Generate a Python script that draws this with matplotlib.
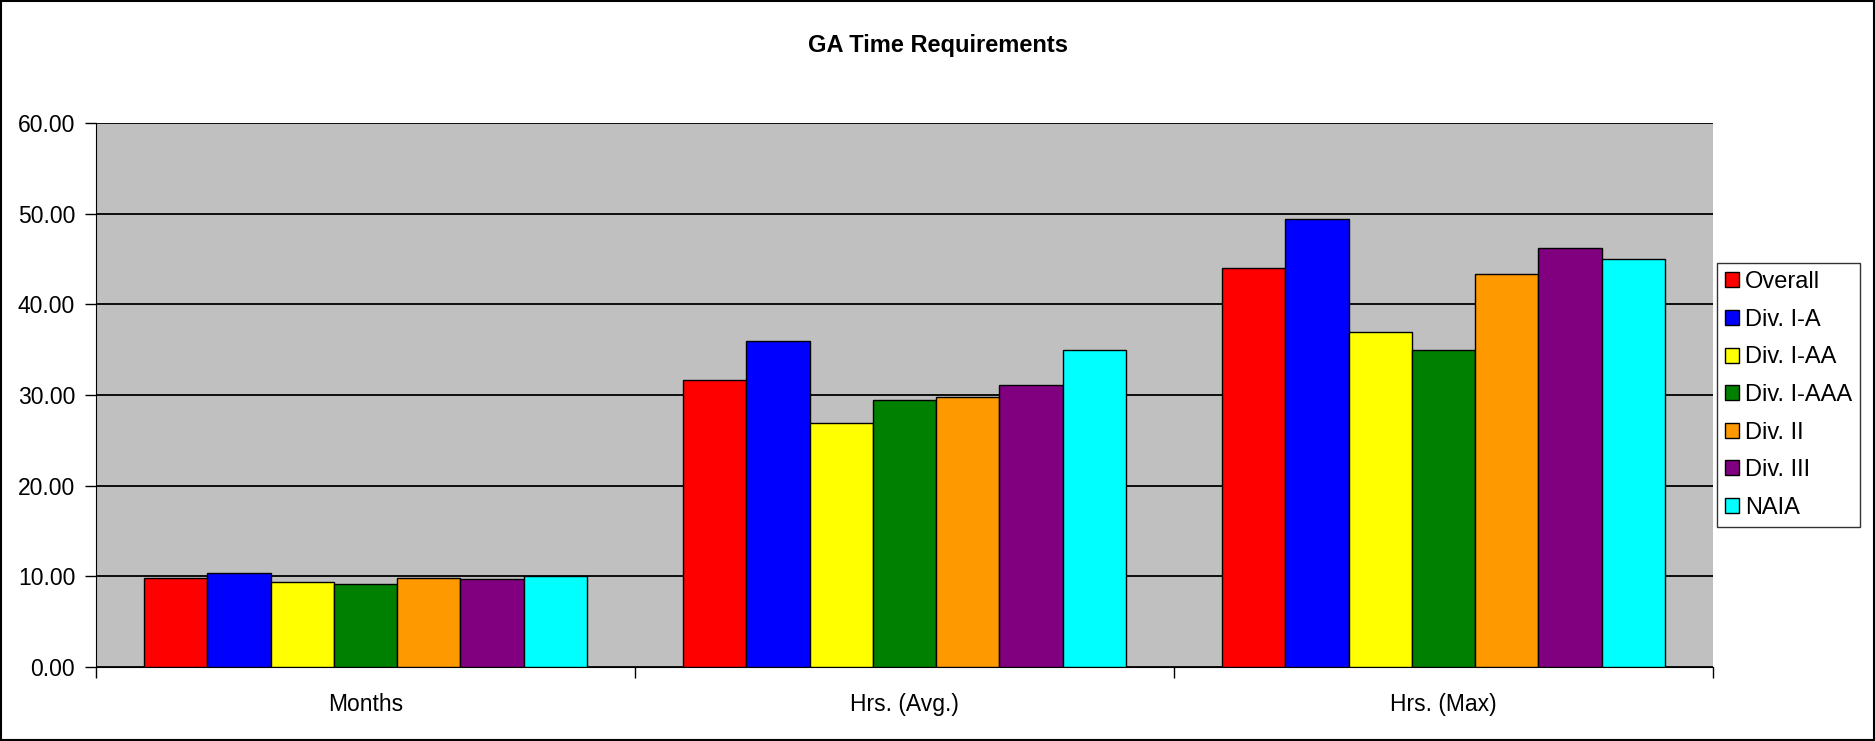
import numpy as np
import matplotlib.pyplot as plt
from matplotlib.patches import Rectangle

plt.rcParams['font.family'] = ['Liberation Sans', 'DejaVu Sans']

categories = ["Months", "Hrs. (Avg.)", "Hrs. (Max)"]
series = ["Overall", "Div. I-A", "Div. I-AA", "Div. I-AAA", "Div. II", "Div. III", "NAIA"]
overall = [9.8, 31.6, 44.0]
div_1a = [10.4, 36.0, 49.4]
div_1aa = [9.4, 26.9, 37.0]
div_1aaa = [9.2, 29.5, 35.0]
div_2 = [9.8, 29.8, 43.4]
div_3 = [9.7, 31.1, 46.2]
naia = [10.0, 35.0, 45.0]
colors = ["#FF0000", "#0000FF", "#FFFF00", "#008000", "#FF9900", "#800080", "#00FFFF"]

values = [overall, div_1a, div_1aa, div_1aaa, div_2, div_3, naia]

fig = plt.figure(figsize=(18.75, 7.41), dpi=100)
ax = fig.add_axes([0.0512, 0.0999, 0.8624, 0.7341])
ax.set_facecolor("#C0C0C0")

n = len(series)
gap = 1.52
w = 1.0 / (n + gap)
x = np.arange(len(categories))
for i, (name, vals) in enumerate(zip(series, values)):
    offs = (i - (n - 1) / 2) * w
    ax.bar(x + offs, vals, width=w, color=colors[i], edgecolor="black",
           linewidth=1.0, label=name, zorder=3)

ax.set_xlim(-0.5, len(categories) - 0.5)
ax.set_ylim(0, 60)
ax.set_yticks(np.arange(0, 61, 10))
ax.set_yticklabels([f"{v:.2f}" for v in np.arange(0, 61, 10)])
ax.yaxis.grid(True, color="black", linewidth=1.3, zorder=1)
ax.set_axisbelow(True)

ax.set_xticks(x)
ax.set_xticklabels(categories)
ax.set_xticks(np.arange(-0.5, len(categories)), minor=True)
ax.tick_params(axis="x", which="major", length=0, pad=19, labelsize=16.5)
ax.tick_params(axis="x", which="minor", length=8, width=1, direction="out")
ax.tick_params(axis="y", length=8, width=1, direction="out", labelsize=16.5, pad=7)

for side in ["top", "right"]:
    ax.spines[side].set_visible(False)
ax.spines["left"].set_color("black")
ax.spines["bottom"].set_color("black")

fig.text(0.5, 0.938, "GA Time Requirements", ha="center", va="center",
         fontsize=17, fontweight="bold")

leg = fig.legend(loc="center left", bbox_to_anchor=(0.9155, 0.467), fontsize=17,
                 frameon=True, fancybox=False, edgecolor="black",
                 handlelength=0.6, handleheight=0.6, handletextpad=0.25,
                 labelspacing=0.66, borderpad=0.35, borderaxespad=0.0)
leg.get_frame().set_linewidth(1.0)

fig.patches.append(Rectangle((0.0005, 0.001), 0.999, 0.998, transform=fig.transFigure,
                             fill=False, edgecolor="black", linewidth=1.5))

plt.savefig("out.png", dpi=100)
